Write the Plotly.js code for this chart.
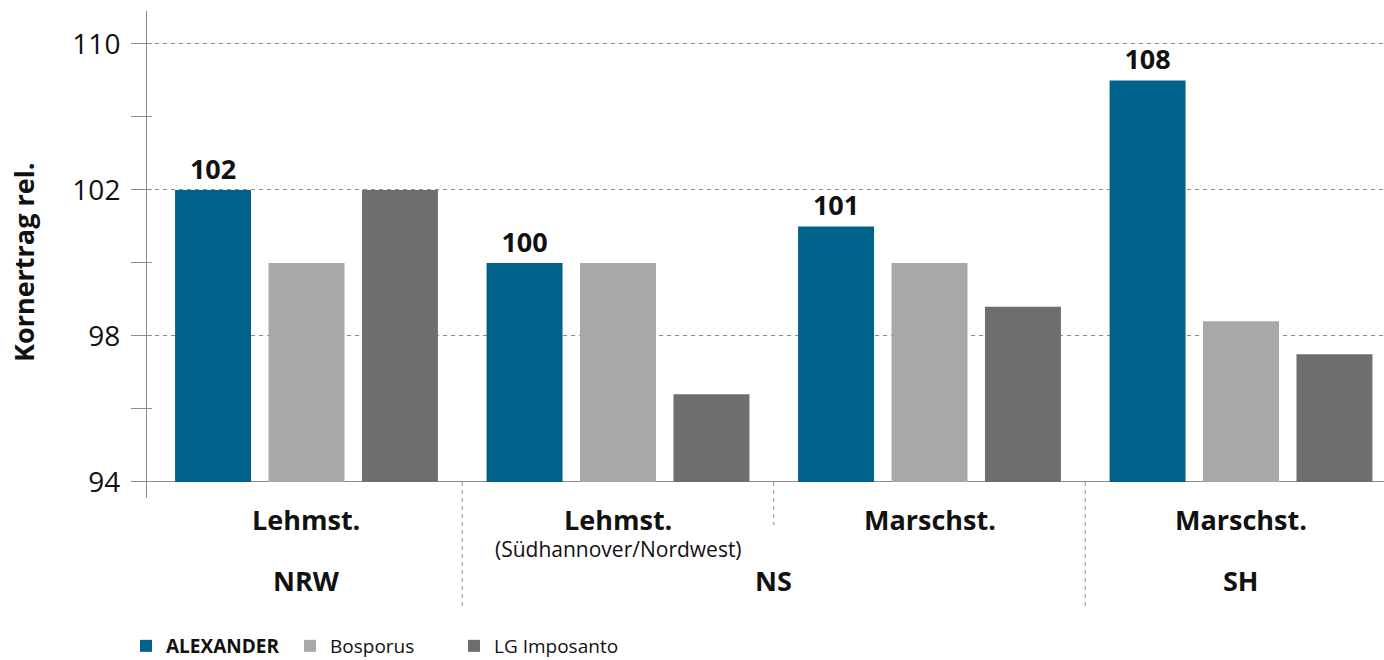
<!DOCTYPE html>
<html>
<head>
<meta charset="utf-8">
<script src="https://cdn.plot.ly/plotly-3.0.1.min.js"></script>
<style>html,body{margin:0;padding:0;background:#fff;}#chart{width:1384px;height:660px;}</style>
</head>
<body>
<div id="chart"></div>
<script>
// ---- data ----
const soils = ["Lehmst.", "Lehmst.", "Marschst.", "Marschst."];
const subNotes = ["", "(Südhannover/Nordwest)", "", ""];
const regions = ["NRW", "NS", "SH"];
const regionCenters = [0, 1.5, 3];          // category index centre for each region label
const seriesNames = ["ALEXANDER", "Bosporus", "LG Imposanto"];
const alexander = [102, 100, 101, 108];
const bosporus = [100, 100, 100, 98.4];
const lgImposanto = [102, 96.4, 98.8, 97.5];
const yTickLabels = [94, 98, 102, 110];
const yMinorTicks = [96, 100, 106];
const yTitle = "Kornertrag rel.";

// ---- piecewise axis scale (the original axis spaces 94-98-102 by 4 and 102-110 by 8) ----
function scaleY(v) {
  return v <= 102 ? (v - 94) / 4 : 2 + (v - 102) / 8;
}

const colors = ["#00628B", "#A8A8A7", "#6E6E6E"];
const FONT = "Open Sans, Noto Sans, sans-serif";
const xIdx = soils.map((_, i) => i);

// plot area geometry in pixels
const W = 1384, H = 660;
const PL = 147, PT = 11, PW = W - 147, PH = 487;
const py2paper = py => (PT + PH - py) / PH;

const allSeries = [alexander, bosporus, lgImposanto];
const traces = allSeries.map((vals, k) => {
  const t = {
    type: "bar",
    x: xIdx,
    y: vals.map(scaleY),
    name: k === 0 ? "<b>" + seriesNames[k] + "</b>" : seriesNames[k],
    marker: {color: colors[k], line: {width: 0}},
    hoverinfo: "skip",
    cliponaxis: false
  };
  if (k === 0) {
    t.text = vals.map(v => "<b>" + v + "</b>");
    t.textposition = "outside";
    t.textfont = {family: FONT, size: 27, color: "#111"};
  } else {
    t.textposition = "none";
  }
  return t;
});

// dummy trace for second y axis (inner tick marks)
traces.push({type: "scatter", x: [0], y: [0], yaxis: "y2", mode: "none", showlegend: false, hoverinfo: "skip"});

const yMin = -0.11, yMax = 3.226;
const xMin = -0.512, xMax = 3.459;

const annotations = [];
soils.forEach((s, i) => {
  annotations.push({x: i, xref: "x", y: py2paper(519), yref: "paper", text: "<b>" + s + "</b>",
    showarrow: false, xanchor: "center", yanchor: "middle", font: {family: FONT, size: 27, color: "#111"}});
  if (subNotes[i]) {
    annotations.push({x: i, xref: "x", y: py2paper(549), yref: "paper", text: subNotes[i],
      showarrow: false, xanchor: "center", yanchor: "middle", font: {family: FONT, size: 21, color: "#111"}});
  }
});
regions.forEach((r, i) => {
  annotations.push({x: regionCenters[i], xref: "x", y: py2paper(580), yref: "paper", text: "<b>" + r + "</b>",
    showarrow: false, xanchor: "center", yanchor: "middle", font: {family: FONT, size: 27, color: "#111"}});
});
annotations.push({x: (23 - PL) / PW, xref: "x domain", y: py2paper(262), yref: "paper", text: "<b>" + yTitle + "</b>",
  textangle: -90, showarrow: false, xanchor: "center", yanchor: "middle",
  font: {family: FONT, size: 27, color: "#111"}});

const sepStyle = {color: "#8c8c8c", width: 1, dash: "4px,4px"};
const shapes = [
  {type: "line", xref: "x", yref: "paper", x0: 0.5, x1: 0.5, y0: py2paper(482), y1: py2paper(610), line: sepStyle},
  {type: "line", xref: "x", yref: "paper", x0: 1.5, x1: 1.5, y0: py2paper(482), y1: py2paper(525), line: sepStyle},
  {type: "line", xref: "x", yref: "paper", x0: 2.5, x1: 2.5, y0: py2paper(482), y1: py2paper(610), line: sepStyle}
];

const tickVals = yTickLabels.map(scaleY);
const minorVals = yMinorTicks.map(scaleY);

const layout = {
  width: W,
  height: H,
  margin: {l: PL, r: 0, t: PT, b: H - PT - PH},
  paper_bgcolor: "#fff",
  plot_bgcolor: "#fff",
  font: {family: FONT, color: "#111"},
  barmode: "group",
  bargap: 0.1,
  bargroupgap: 0.187,
  showlegend: true,
  legend: {
    orientation: "h",
    xref: "container", yref: "container",
    x: 126 / W, y: (H - 646) / H, xanchor: "left", yanchor: "middle",
    font: {family: FONT, size: 19, color: "#111"},
    traceorder: "normal",
    entrywidth: 119,
    bgcolor: "rgba(0,0,0,0)"
  },
  xaxis: {
    range: [xMin, xMax],
    showticklabels: false,
    showgrid: false,
    zeroline: false,
    showline: false,
    ticks: "",
    fixedrange: true
  },
  yaxis: {
    range: [yMin, yMax],
    tickmode: "array",
    tickvals: tickVals,
    ticktext: yTickLabels.map(String),
    tickfont: {family: FONT, size: 28, color: "#111"},
    ticks: "outside",
    ticklen: 15,
    tickwidth: 1,
    tickcolor: "#8c8c8c",
    ticklabelstandoff: 5,
    minor: {tickmode: "array", tickvals: minorVals, ticks: "outside", ticklen: 15, tickwidth: 1, tickcolor: "#8c8c8c", showgrid: false},
    showline: true,
    linecolor: "#8c8c8c",
    linewidth: 1,
    showgrid: true,
    gridcolor: "#8c8c8c",
    gridwidth: 1,
    griddash: "4px,4px",
    zeroline: true,
    zerolinecolor: "#8c8c8c",
    zerolinewidth: 1,
    fixedrange: true
  },
  yaxis2: {
    overlaying: "y",
    side: "left",
    range: [yMin, yMax],
    tickmode: "array",
    tickvals: tickVals.concat(minorVals),
    ticks: "inside",
    ticklen: 5,
    tickcolor: "#8c8c8c",
    showticklabels: false,
    showgrid: false,
    zeroline: false,
    showline: false,
    fixedrange: true
  },
  annotations: annotations,
  shapes: shapes
};

Plotly.newPlot("chart", traces, layout, {displayModeBar: false, staticPlot: true});
</script>
</body>
</html>
